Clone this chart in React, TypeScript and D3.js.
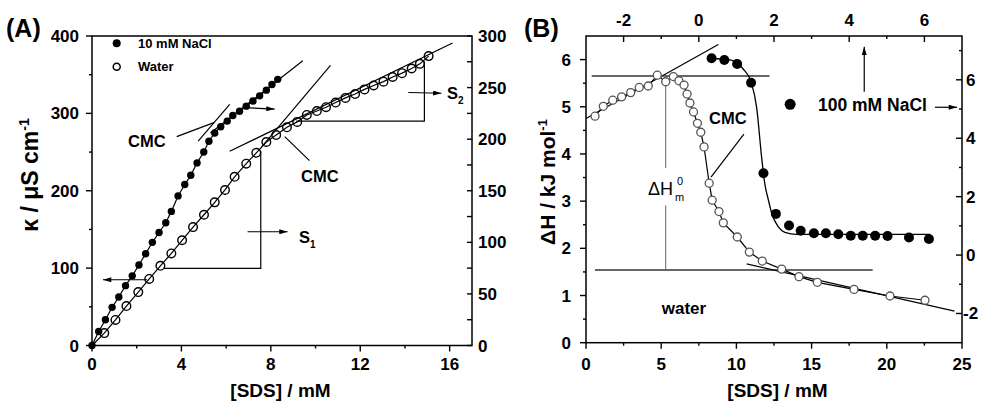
import React from 'react';
import * as d3 from 'd3';

const FONT = "Arial, 'Liberation Sans', Helvetica, sans-serif";

// ---------- Panel A data ----------
// 10 mM NaCl (filled) — read against right axis (0-300)
const naclA_sds = [0, 0.3, 0.6, 0.9, 1.2, 1.5, 1.8, 2.1, 2.4, 2.7, 3.0, 3.3, 3.55, 3.85, 4.15, 4.42, 4.7, 5.0, 5.23, 5.49, 5.76, 6.05, 6.3, 6.6, 6.9, 7.2, 7.5, 7.8, 8.05, 8.31];
const naclA_kappa = [0, 13.5, 25, 37, 47, 58, 67.5, 78, 89, 100, 109.5, 119, 130, 145, 156, 165, 177, 187.5, 198, 206, 212, 217.5, 223, 227, 232, 237, 242, 247.5, 253, 258];
// Water (open) — read against left axis (0-400)
const waterA_sds = [0.55, 1.05, 1.54, 2.07, 2.56, 3.06, 3.55, 4.03, 4.52, 5.01, 5.49, 5.95, 6.38, 6.9, 7.35, 7.8, 8.24, 8.72, 9.18, 9.61, 10.06, 10.47, 10.9, 11.34, 11.77, 12.19, 12.6, 13.04, 13.45, 13.87, 14.3, 14.67, 15.06];
const waterA_kappa = [16, 33, 51, 69, 86, 103, 119, 136, 153, 169, 185, 201, 218, 235, 249, 263, 272, 282, 289, 298, 303, 308, 314, 320, 325, 331, 336, 341, 347, 352, 358, 364, 374];

const ticksA_left = [0, 100, 200, 300, 400];
const minorA_left = [50, 150, 250, 350];
const ticksA_right = [0, 50, 100, 150, 200, 250, 300];
const minorA_right = [25, 75, 125, 175, 225, 275];
const ticksA_bottom = [0, 4, 8, 12, 16];
const minorA_bottom = [2, 6, 10, 14];

// ---------- Panel B data ----------
// Water (open) — bottom / left axes
const waterB_sds = [0.6, 1.15, 1.78, 2.37, 2.97, 3.54, 4.14, 4.74, 5.3, 5.81, 6.18, 6.52, 6.72, 6.91, 7.15, 7.41, 7.63, 7.85, 8.19, 8.39, 8.84, 9.13, 10.06, 10.86, 11.72, 13.01, 14.16, 15.38, 17.82, 20.21, 22.54];
const waterB_dH = [4.8, 5.01, 5.14, 5.21, 5.3, 5.41, 5.44, 5.67, 5.53, 5.64, 5.55, 5.46, 5.27, 5.08, 4.89, 4.65, 4.46, 4.15, 3.38, 3.02, 2.78, 2.54, 2.24, 1.92, 1.73, 1.56, 1.4, 1.28, 1.13, 0.99, 0.9];
// 100 mM NaCl (filled) — top / right axes
const naclB_sds = [0.34, 0.68, 1.02, 1.39, 1.72, 2.05, 2.4, 2.71, 3.06, 3.38, 3.71, 4.04, 4.36, 4.69, 5.02, 5.59, 6.12];
const naclB_dH = [6.74, 6.68, 6.54, 5.9, 2.8, 1.41, 1.01, 0.83, 0.75, 0.75, 0.71, 0.66, 0.66, 0.66, 0.65, 0.6, 0.55];
// fitted sigmoid curve for 100 mM NaCl (top / right axes)
const naclBFit_sds = [0.34, 0.83, 1.18, 1.39, 1.54, 1.67, 1.76, 1.85, 1.94, 2.11, 2.29, 2.6, 6.15];
const naclBFit_dH = [6.73, 6.68, 6.37, 5.93, 5.04, 3.36, 2.4, 1.89, 1.43, 0.97, 0.78, 0.71, 0.71];

const ticksB_left = [0, 1, 2, 3, 4, 5, 6];
const minorB_left = [0.5, 1.5, 2.5, 3.5, 4.5, 5.5];
const ticksB_bottom = [0, 5, 10, 15, 20, 25];
const minorB_bottom = [2.5, 7.5, 12.5, 17.5, 22.5];
const ticksB_top = [-2, 0, 2, 4, 6];
const minorB_top = [-1, 1, 3, 5];
const ticksB_right = [-2, 0, 2, 4, 6];
const minorB_right = [-1, 1, 3, 5, 7];

type P = [number, number];
const zip = (a: number[], b: number[]): P[] => a.map((v, i) => [v, b[i]]);

export default function App() {
  // scales panel A
  const xA = d3.scaleLinear().domain([0, 17]).range([92, 472]);
  const yAL = d3.scaleLinear().domain([0, 400]).range([345.5, 36]);
  const yAR = d3.scaleLinear().domain([0, 300]).range([345.5, 36]);
  // scales panel B
  const xB = d3.scaleLinear().domain([0, 25]).range([586, 962]);
  const yB = d3.scaleLinear().domain([0, 6.5]).range([342.7, 36]);
  const xBT = d3.scaleLinear().domain([-3, 7]).range([586, 962]);
  const yBR = d3.scaleLinear().domain([-3, 7.5]).range([342.7, 36]);

  const lineAL = d3.line<P>().x(d => xA(d[0])).y(d => yAL(d[1]));
  const lineAR = d3.line<P>().x(d => xA(d[0])).y(d => yAR(d[1]));
  const lineB = d3.line<P>().x(d => xB(d[0])).y(d => yB(d[1]));
  const lineBT = d3.line<P>().x(d => xBT(d[0])).y(d => yBR(d[1])).curve(d3.curveMonotoneX);
  const lineBTlin = d3.line<P>().x(d => xBT(d[0])).y(d => yBR(d[1]));

  const naclA = zip(naclA_sds, naclA_kappa);
  const waterA = zip(waterA_sds, waterA_kappa);
  const waterB = zip(waterB_sds, waterB_dH);
  const naclB = zip(naclB_sds, naclB_dH);
  const naclBFit = zip(naclBFit_sds, naclBFit_dH);

  const tickFont = { fontFamily: FONT, fontWeight: 700, fontSize: 17 } as const;
  const bold = (s: number) => ({ fontFamily: FONT, fontWeight: 700, fontSize: s } as const);

  const hTicks = (scale: any, vals: number[], y0: number, len: number, key: string) =>
    vals.map(v => <line key={key + v} x1={scale(v)} x2={scale(v)} y1={y0} y2={y0 + len} stroke="#000" strokeWidth={1.4} />);
  const vTicks = (scale: any, vals: number[], x0: number, len: number, key: string) =>
    vals.map(v => <line key={key + v} y1={scale(v)} y2={scale(v)} x1={x0} x2={x0 + len} stroke="#000" strokeWidth={1.4} />);

  return (
    <svg width={987} height={403} style={{ position: 'absolute', left: 0, top: 0, background: '#fff' }}>
      <defs>
        <marker id="ah" viewBox="0 0 10 6" refX="10" refY="3" markerWidth="9" markerHeight="5" orient="auto" markerUnits="userSpaceOnUse">
          <path d="M0,0 L10,3 L0,6 z" fill="#000" />
        </marker>
      </defs>
      <rect width={987} height={403} fill="#fff" />

      {/* ================= Panel A ================= */}
      <text x={6} y={37} {...bold(25)}>(A)</text>
      <rect x={xA(0)} y={yAL(400)} width={xA(17) - xA(0)} height={yAL(0) - yAL(400)} fill="none" stroke="#000" strokeWidth={1.5} />
      {vTicks(yAL, ticksA_left, xA(0), -6, 'al')}
      {vTicks(yAL, minorA_left, xA(0), -3, 'alm')}
      {vTicks(yAR, ticksA_right.concat(minorA_right), xA(17), -5, 'ar')}
      {hTicks(xA, ticksA_bottom, yAL(0), 6, 'ab')}
      {hTicks(xA, minorA_bottom, yAL(0), 3, 'abm')}
      {ticksA_left.map(v => <text key={'tl' + v} x={79} y={yAL(v) + 6} textAnchor="end" {...tickFont}>{v}</text>)}
      {ticksA_right.map(v => <text key={'tr' + v} x={478} y={yAR(v) + 6} textAnchor="start" {...tickFont}>{v}</text>)}
      {ticksA_bottom.map(v => <text key={'tb' + v} x={xA(v)} y={370} textAnchor="middle" {...tickFont}>{v}</text>)}
      <text x={280.5} y={397} textAnchor="middle" {...bold(19)}>[SDS] / mM</text>
      <text transform="translate(38,175) rotate(-90)" textAnchor="middle" {...bold(23)}>κ / μS cm<tspan dy={-9} fontSize={14}>-1</tspan></text>

      {/* annotation lines A */}
      <path d={lineAR([[4.75, 198], [6.16, 233.7]])!} stroke="#000" strokeWidth={1.2} fill="none" />
      <path d={lineAR([[5.3, 206], [9.43, 276]])!} stroke="#000" strokeWidth={1.2} fill="none" />
      <path d={lineAL([[7.6, 257], [10.67, 362]])!} stroke="#000" strokeWidth={1.2} fill="none" />
      <path d={lineAL([[6.16, 251], [16.13, 391]])!} stroke="#000" strokeWidth={1.2} fill="none" />
      <path d={lineAL([[3.2, 99.7], [7.55, 99.7], [7.55, 251]])!} stroke="#000" strokeWidth={1.2} fill="none" />
      <path d={lineAL([[9.14, 290], [14.87, 290], [14.87, 367]])!} stroke="#000" strokeWidth={1.2} fill="none" />
      <path d={lineAL([[3.79, 270], [5.45, 288]])!} stroke="#000" strokeWidth={1.2} fill="none" />
      <path d={lineAL([[9.73, 239], [8.62, 270]])!} stroke="#000" strokeWidth={1.2} fill="none" />
      <path d={lineAL([[2.46, 85], [0.49, 85]])!} stroke="#000" strokeWidth={1.2} fill="none" markerEnd="url(#ah)" />
      <path d={lineAL([[6.74, 307.5], [8.17, 305.5]])!} stroke="#000" strokeWidth={1.2} fill="none" markerEnd="url(#ah)" />
      <path d={lineAL([[6.96, 147], [8.75, 147]])!} stroke="#000" strokeWidth={1.2} fill="none" markerEnd="url(#ah)" />
      <path d={lineAL([[14.15, 327], [15.63, 326]])!} stroke="#000" strokeWidth={1.2} fill="none" markerEnd="url(#ah)" />
      <text x={128} y={147} {...bold(16.5)}>CMC</text>
      <text x={301} y={182} {...bold(16.5)}>CMC</text>
      <text x={299} y={243} {...bold(16.5)}>S<tspan dy={5} fontSize={10}>1</tspan></text>
      <text x={447} y={99} {...bold(16.5)}>S<tspan dy={5} fontSize={10}>2</tspan></text>

      {/* data lines A */}
      <path d={lineAR(naclA)!} stroke="#000" strokeWidth={1.2} fill="none" />
      <path d={lineAL([[0, 0] as P].concat(waterA))!} stroke="#000" strokeWidth={1.2} fill="none" />
      {naclA.map((d, i) => <circle key={'na' + i} cx={xA(d[0])} cy={yAR(d[1])} r={3.7} fill="#000" />)}
      {waterA.map((d, i) => <circle key={'wa' + i} cx={xA(d[0])} cy={yAL(d[1])} r={4.3} fill="none" stroke="#000" strokeWidth={1.4} />)}

      {/* legend A */}
      <circle cx={116.7} cy={43.3} r={4} fill="#000" />
      <text x={138} y={47.8} {...bold(13)}>10 mM NaCl</text>
      <circle cx={116.7} cy={66.7} r={3.5} fill="#fff" stroke="#000" strokeWidth={1.5} />
      <text x={138} y={71.3} {...bold(13)}>Water</text>

      {/* ================= Panel B ================= */}
      <text x={524} y={37} {...bold(25)}>(B)</text>
      <rect x={xB(0)} y={yB(6.5)} width={xB(25) - xB(0)} height={yB(0) - yB(6.5)} fill="none" stroke="#000" strokeWidth={1.5} />
      {vTicks(yB, ticksB_left, xB(0), -6, 'bl')}
      {vTicks(yB, minorB_left, xB(0), -3, 'blm')}
      {hTicks(xB, ticksB_bottom, yB(0), 6, 'bb')}
      {hTicks(xB, minorB_bottom, yB(0), 3, 'bbm')}
      {hTicks(xBT, ticksB_top, yB(6.5), 6, 'bt')}
      {hTicks(xBT, minorB_top, yB(6.5), 3, 'btm')}
      {vTicks(yBR, ticksB_right, xB(25), -6, 'br')}
      {vTicks(yBR, minorB_right, xB(25), -3, 'brm')}
      {ticksB_left.map(v => <text key={'Bl' + v} x={571} y={yB(v) + 6} textAnchor="end" {...tickFont}>{v}</text>)}
      {ticksB_bottom.map(v => <text key={'Bb' + v} x={xB(v)} y={370} textAnchor="middle" {...tickFont}>{v}</text>)}
      {ticksB_top.map(v => <text key={'Bt' + v} x={xBT(v)} y={26} textAnchor="middle" {...tickFont}>{v}</text>)}
      {ticksB_right.map(v => <text key={'Br' + v} x={v < 0 ? 963 : 966} y={yBR(v) + 6} textAnchor="start" {...tickFont}>{v}</text>)}
      <text x={777.5} y={397} textAnchor="middle" {...bold(19)}>[SDS] / mM</text>
      <text transform="translate(555,182) rotate(-90)" textAnchor="middle" {...bold(21)}>ΔH / kJ mol<tspan dy={-8} fontSize={13}>-1</tspan></text>

      {/* annotation lines B */}
      <path d={lineB([[0, 4.75], [8.8, 6.32]])!} stroke="#000" strokeWidth={1.2} fill="none" />
      <path d={lineB([[0.38, 5.65], [12.2, 5.65]])!} stroke="#333" strokeWidth={1.5} fill="none" />
      <path d={lineB([[0.6, 1.54], [19.06, 1.54]])!} stroke="#333" strokeWidth={1.5} fill="none" />
      <path d={lineB([[5.3, 5.53], [5.3, 3.7]])!} stroke="#666" strokeWidth={1} fill="none" />
      <path d={lineB([[5.3, 2.91], [5.3, 1.54]])!} stroke="#666" strokeWidth={1} fill="none" />
      <path d={lineB([[10.68, 1.67], [24.5, 0.67]])!} stroke="#000" strokeWidth={1.2} fill="none" />
      <path d={lineB([[10.5, 4.42], [8.31, 3.51]])!} stroke="#000" strokeWidth={1.2} fill="none" />
      <path d={lineBTlin([[4.4, 5.59], [4.4, 7.13]])!} stroke="#000" strokeWidth={1.2} fill="none" markerEnd="url(#ah)" />
      <path d={lineBTlin([[6.28, 5.06], [6.87, 5.06]])!} stroke="#000" strokeWidth={1.2} fill="none" markerEnd="url(#ah)" />
      <text x={709} y={123.5} {...bold(16.5)}>CMC</text>
      <text x={818} y={111} {...bold(17.5)}>100 mM NaCl</text>
      <text x={684} y={314} textAnchor="middle" {...bold(17)}>water</text>
      <text x={648} y={195} fontFamily={FONT} fontSize={18}>ΔH</text>
      <text x={677} y={185} fontFamily={FONT} fontSize={11}>0</text>
      <text x={675} y={201} fontFamily={FONT} fontSize={11}>m</text>

      {/* data B */}
      <path d={lineB(waterB)!} stroke="#000" strokeWidth={1.2} fill="none" />
      <path d={lineBT(naclBFit)!} stroke="#000" strokeWidth={1.3} fill="none" />
      {waterB.map((d, i) => <circle key={'wb' + i} cx={xB(d[0])} cy={yB(d[1])} r={4} fill="#fff" stroke="#555" strokeWidth={1.3} />)}
      {naclB.map((d, i) => <circle key={'nb' + i} cx={xBT(d[0])} cy={yBR(d[1])} r={5} fill="#000" />)}
      <circle cx={xBT(2.43)} cy={yBR(5.16)} r={5.5} fill="#000" />
    </svg>
  );
}
